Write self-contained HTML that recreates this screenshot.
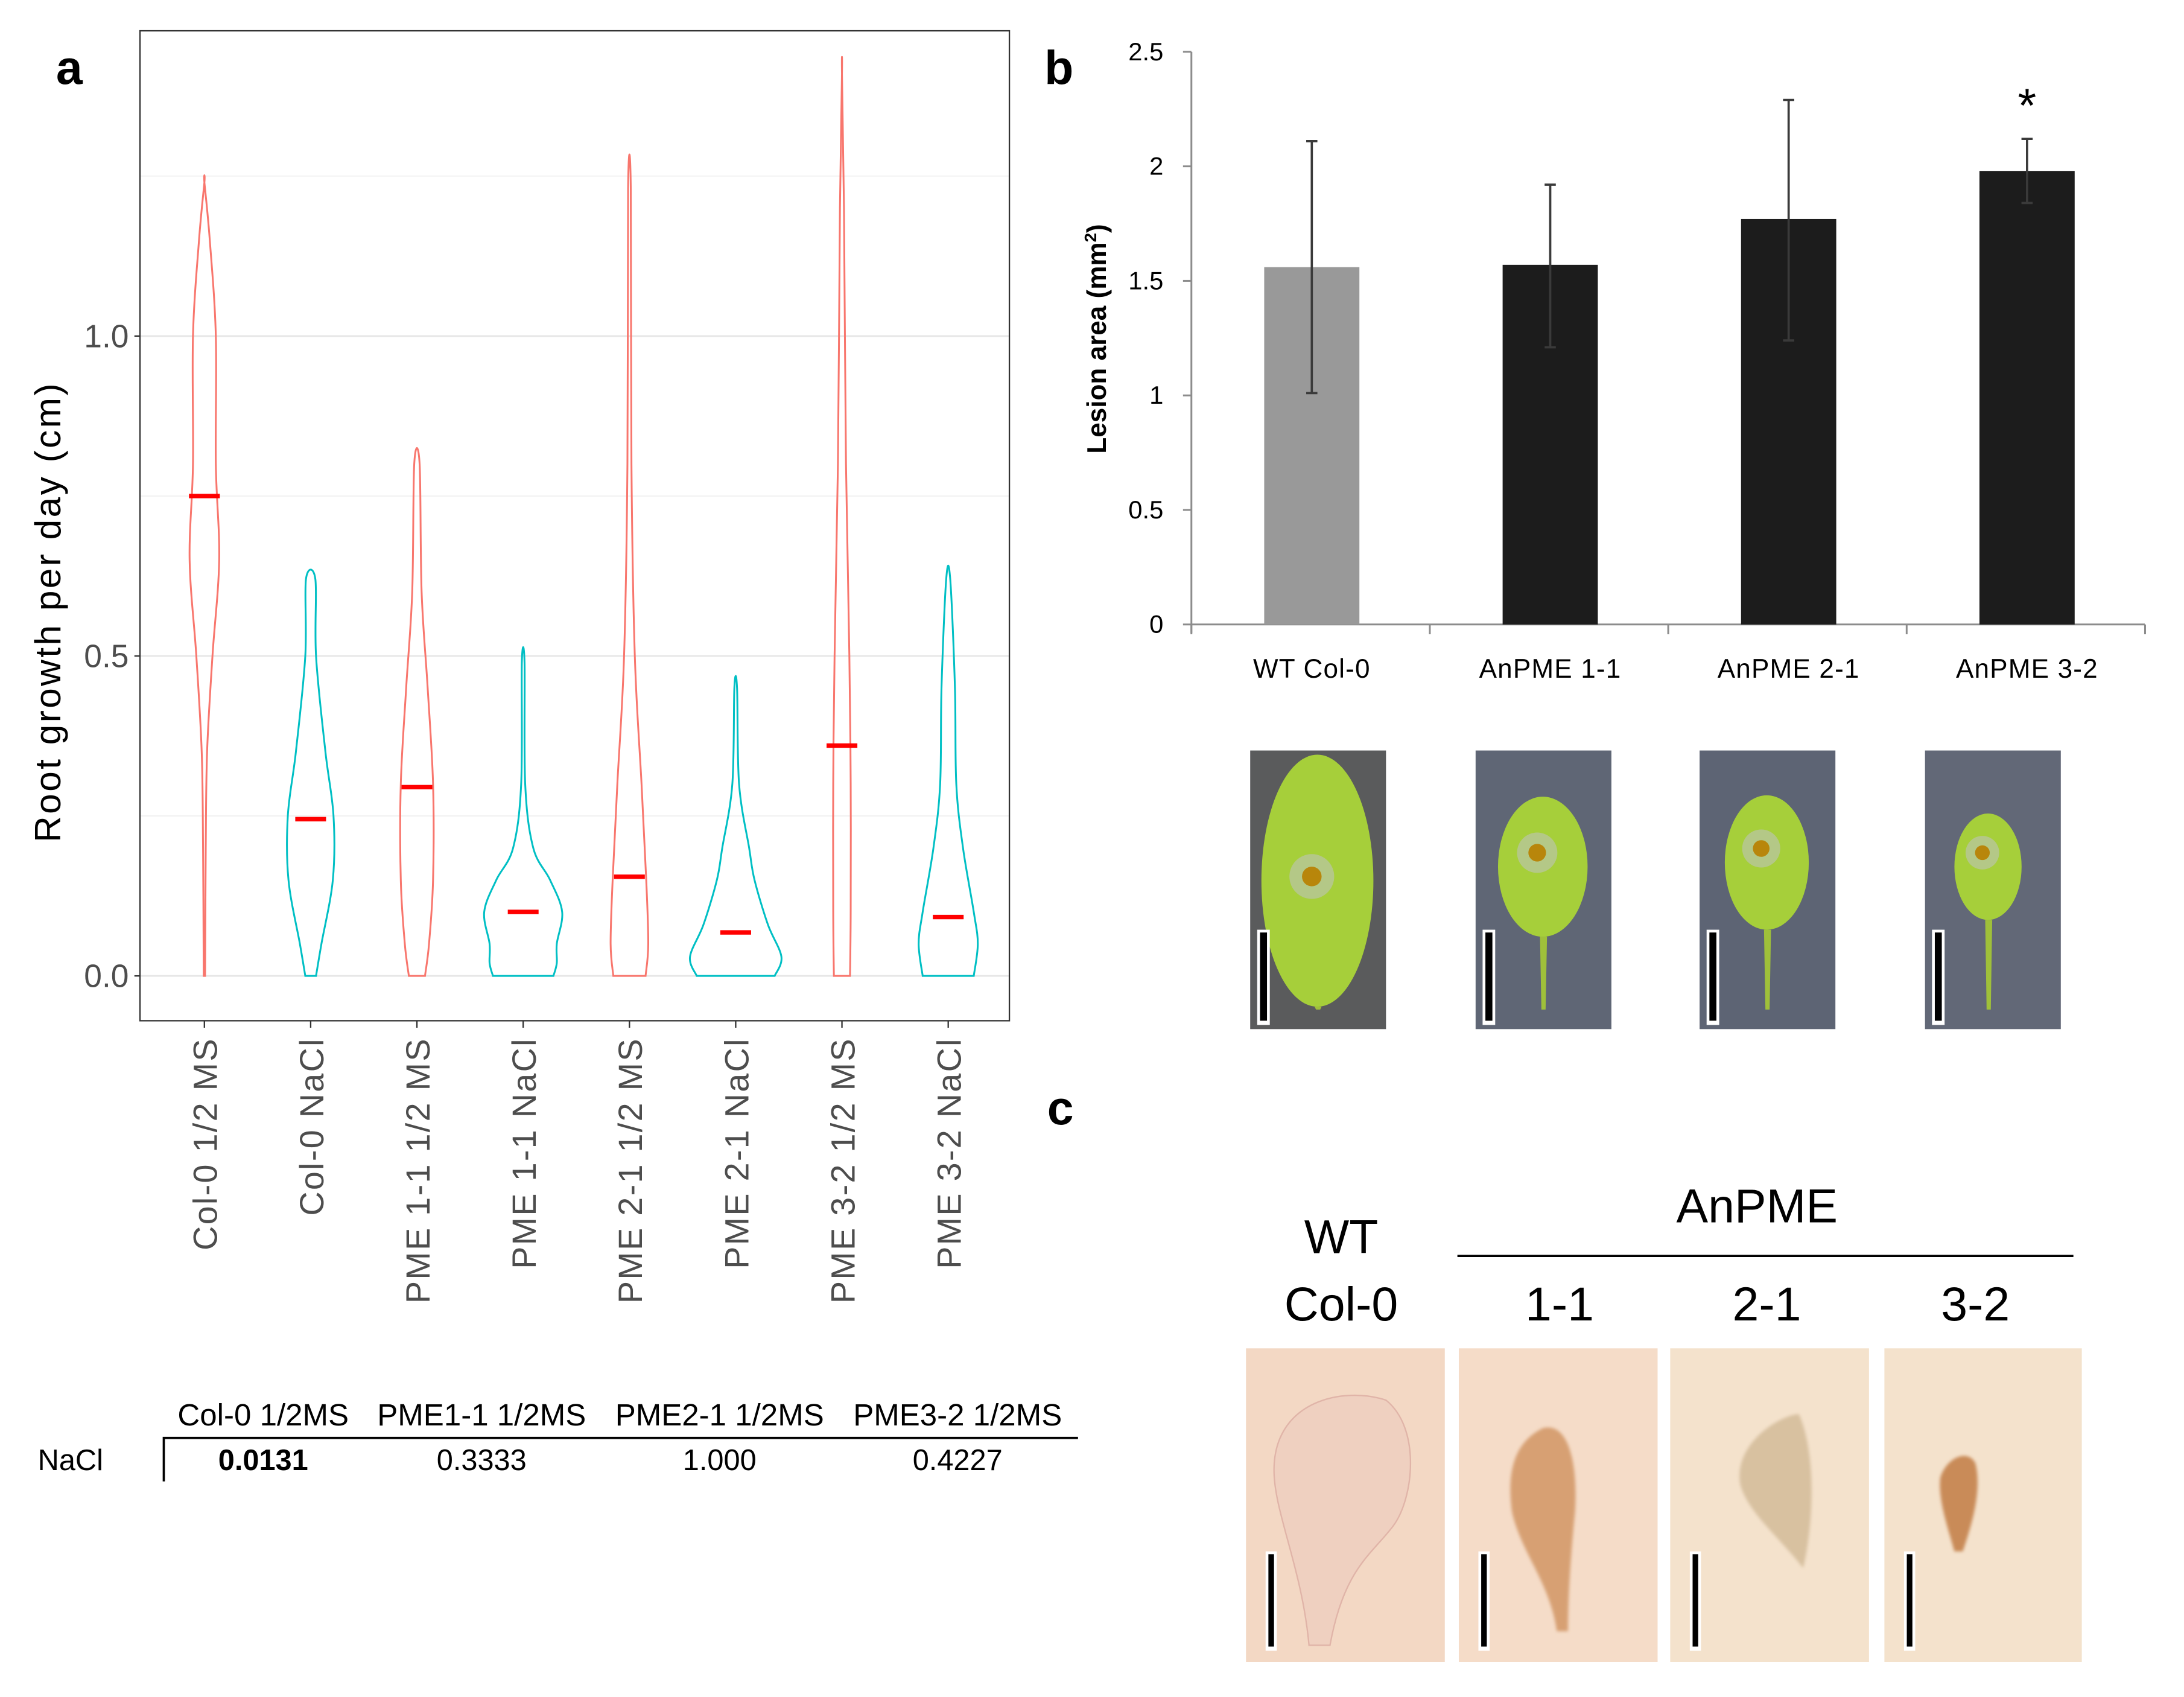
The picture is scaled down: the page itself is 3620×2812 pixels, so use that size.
<!DOCTYPE html>
<html><head><meta charset="utf-8">
<style>
html,body{margin:0;padding:0;background:#fff;}
svg{display:block;}
text{font-family:"Liberation Sans",sans-serif;}
</style></head>
<body>
<svg id="fig" width="3620" height="2812" viewBox="0 0 1560 1212" preserveAspectRatio="none" xmlns="http://www.w3.org/2000/svg">
<defs>
  <filter id="blur1"><feGaussianBlur stdDeviation="1.2"/></filter>
</defs>
<g id="panelA"></g>
<g id="panelB"></g>
<g id="photos"></g>
<g id="panelC"></g>
<g id="table"></g>
</svg>
<script>
// ---------- Panel a data ----------
const catsA = ["Col-0 1/2 MS","Col-0 NaCl","PME 1-1 1/2 MS","PME 1-1 NaCl","PME 2-1 1/2 MS","PME 2-1 NaCl","PME 3-2 1/2 MS","PME 3-2 NaCl"];
const groupA = ["MS","NaCl","MS","NaCl","MS","NaCl","MS","NaCl"];
const meansA = [0.75,0.245,0.295,0.1,0.155,0.068,0.36,0.092];
const violinY = [
 [0,0.2,0.35,0.5,0.65,0.8,1.0,1.15,1.24],
 [0,0.05,0.15,0.25,0.35,0.5,0.62],
 [0,0.05,0.15,0.3,0.45,0.6,0.8],
 [0,0.02,0.05,0.1,0.15,0.2,0.3,0.49],
 [0,0.05,0.15,0.3,0.5,0.8,1.23],
 [0,0.03,0.08,0.15,0.2,0.3,0.45],
 [0,0.1,0.3,0.5,0.8,1.2,1.41],
 [0,0.05,0.1,0.2,0.3,0.45,0.62]
];
const violinD = [
 [1,2,4,12,22,17,17,8,0],
 [8,16,33,34,22,8,7],
 [12,18,24,24,16,7,4],
 [45,50,50,58,40,15,3,2],
 [24,28,25,18,8,3,2],
 [58,68,48,28,20,5,2],
 [12,13,13,11,6,3,0],
 [38,44,38,22,12,10,3]
];
const ticksA = [0,0.5,1.0];
const gridA = [0.25,0.75,1.25];

// ---------- Panel b data ----------
const catsB = ["WT Col-0","AnPME 1-1","AnPME 2-1","AnPME 3-2"];
const valsB = [1.56,1.57,1.77,1.98];
const errLoB = [1.01,1.21,1.24,1.84];
const errHiB = [2.11,1.92,2.29,2.12];
const sigB = ["","","","*"];
const ticksB = [0,0.5,1,1.5,2,2.5];
const tickLabB = ["0","0.5","1","1.5","2","2.5"];

// ---------- Table data ----------
const tblHead = ["Col-0 1/2MS","PME1-1 1/2MS","PME2-1 1/2MS","PME3-2 1/2MS"];
const tblVals = ["0.0131","0.3333","1.000","0.4227"];

const NS="http://www.w3.org/2000/svg";
function mk(parent,tag,attrs,txt){const e=document.createElementNS(NS,tag);for(const k in attrs)e.setAttribute(k,attrs[k]);if(txt!==undefined)e.textContent=txt;parent.appendChild(e);return e;}

// ===== Panel A =====
const A=document.getElementById('panelA');
const ax={l:100,r:721,t:22,b:729};
const yA=v=>697-v*457;
const xA=i=>146+i*75.9;
mk(A,'rect',{x:ax.l,y:ax.t,width:ax.r-ax.l,height:ax.b-ax.t,fill:'#fff'});
gridA.forEach(g=>{const l=mk(A,'line',{x1:ax.l,x2:ax.r,y1:yA(g),y2:yA(g),stroke:'#f0f0f0','stroke-width':0.8});

});
ticksA.forEach(t=>{const l=mk(A,'line',{x1:ax.l,x2:ax.r,y1:yA(t),y2:yA(t),stroke:'#e6e6e6','stroke-width':1.2});


const tx=mk(A,'text',{x:92,y:yA(t)+8,'text-anchor':'end','font-size':23,fill:'#4d4d4d'},t.toFixed(1));


mk(A,'line',{x1:96,x2:ax.l,y1:yA(t),y2:yA(t),stroke:'#333','stroke-width':1});});
mk(A,'rect',{x:ax.l,y:ax.t,width:ax.r-ax.l,height:ax.b-ax.t,fill:'none',stroke:'#333','stroke-width':1});
const yt=mk(A,'text',{x:0,y:0,transform:'translate(43,437) rotate(-90)','text-anchor':'middle','font-size':26,'letter-spacing':1.5,fill:'#000'},'Root growth per day (cm)');


const la=mk(A,'text',{x:40,y:60,'font-size':34,'font-weight':'bold'},'a');


const dScale=0.48;
catsA.forEach((c,i)=>{
  const cx=xA(i);const ys=violinY[i],ds=violinD[i];
  let pts=[];
  for(let k=0;k<ys.length;k++)pts.push([cx+ds[k]*dScale,yA(ys[k])]);
  for(let k=ys.length-1;k>=0;k--)pts.push([cx-ds[k]*dScale,yA(ys[k])]);
  let d='M'+pts[0][0]+','+pts[0][1];
  for(let k=0;k<pts.length-1;k++){const p0=pts[Math.max(k-1,0)],p1=pts[k],p2=pts[k+1],p3=pts[Math.min(k+2,pts.length-1)];
    d+=` C${p1[0]+(p2[0]-p0[0])/6},${p1[1]+(p2[1]-p0[1])/6} ${p2[0]-(p3[0]-p1[0])/6},${p2[1]-(p3[1]-p1[1])/6} ${p2[0]},${p2[1]}`;}
  d+='Z';
  const v=mk(A,'path',{d:d,fill:'none',stroke:groupA[i]==='MS'?'#F8766D':'#00BFC4','stroke-width':1.3});
  
  
  const m=mk(A,'line',{x1:cx-11,x2:cx+11,y1:yA(meansA[i]),y2:yA(meansA[i]),stroke:'#ff0000','stroke-width':3.2});
  
  
  mk(A,'line',{x1:cx,x2:cx,y1:ax.b,y2:ax.b+5,stroke:'#333','stroke-width':1});
  const t=mk(A,'text',{x:0,y:0,transform:`translate(${cx+9},741) rotate(-90)`,'text-anchor':'end','font-size':24,'letter-spacing':1,fill:'#4d4d4d'},c);
  
  
});

// ===== Panel B =====
const B=document.getElementById('panelB');
const yB=v=>446-v*163.6;
const xB=i=>937+i*170.3;
const lb=mk(B,'text',{x:746,y:60,'font-size':34,'font-weight':'bold'},'b');


mk(B,'line',{x1:851,x2:851,y1:yB(2.5),y2:yB(0)+6,stroke:'#8c8c8c','stroke-width':1.3});
mk(B,'line',{x1:851,x2:1532,y1:yB(0),y2:yB(0),stroke:'#8c8c8c','stroke-width':1.3});
ticksB.forEach((t,i)=>{mk(B,'line',{x1:845,x2:851,y1:yB(t),y2:yB(t),stroke:'#8c8c8c','stroke-width':1.3});
const tx=mk(B,'text',{x:831,y:yB(t)+6,'text-anchor':'end','font-size':18,fill:'#000'},tickLabB[i]);

});
for(let i=0;i<=4;i++)mk(B,'line',{x1:851+i*170.3,x2:851+i*170.3,y1:yB(0),y2:yB(0)+7,stroke:'#8c8c8c','stroke-width':1.3});
const ytb=mk(B,'text',{x:0,y:0,transform:'translate(790,242) rotate(-90)','text-anchor':'middle','font-size':19,'font-weight':'bold'});


ytb.innerHTML='Lesion area (mm<tspan dy="-7" font-size="12">2</tspan><tspan dy="7">)</tspan>';
catsB.forEach((c,i)=>{
  const cx=xB(i);
  const r=mk(B,'rect',{x:cx-34,y:yB(valsB[i]),width:68,height:yB(0)-yB(valsB[i]),fill:i===0?'#999999':'#1c1c1c'});
  
  
  const e=mk(B,'path',{d:`M${cx},${yB(errLoB[i])}V${yB(errHiB[i])}M${cx-4},${yB(errLoB[i])}H${cx+4}M${cx-4},${yB(errHiB[i])}H${cx+4}`,stroke:'#3a3a3a','stroke-width':1.6,fill:'none'});
  
  
  const t=mk(B,'text',{x:cx,y:484,'text-anchor':'middle','font-size':19,'letter-spacing':0.5},c);
  
  
  if(sigB[i]){const s=mk(B,'text',{x:cx,y:yB(errHiB[i])-12,'text-anchor':'middle','font-size':34},sigB[i]);
  
  }
});

// ===== Photos (green leaves) =====
const P=document.getElementById('photos');
const gx=[893,1054,1214,1375];
const gLeaf=[[48,93,40,90,1.0],[48,83,32,50,0.9],[48,80,30,48,0.85],[45,83,24,38,0.75]];
const gBg=['#5a5b5c','#5f6675','#5d6474','#626877'];
gx.forEach((x,i)=>{
  const g=mk(P,'g',{});
  
  
  mk(g,'rect',{x:x,y:536,width:97,height:199,fill:gBg[i]});
  const L=gLeaf[i];const cx=x+L[0],cy=536+L[1];
  mk(g,'path',{d:`M${cx-2},${cy+L[3]} L${cx+3},${cy+L[3]} L${cx+2},${536+185} L${cx-1},${536+185}Z`,fill:'#9fc03a'});
  mk(g,'ellipse',{cx:cx,cy:cy,rx:L[2],ry:L[3],fill:'#a6cf3a'});
  mk(g,'circle',{cx:cx-4,cy:cy+(i===0?-3:-10),r:16*L[4],fill:'#b8c69b',opacity:0.8});
  mk(g,'circle',{cx:cx-4,cy:cy+(i===0?-3:-10),r:7*L[4],fill:'#b8860b'});
  mk(g,'rect',{x:x+5,y:664,width:9,height:68,fill:'#fff'});
  mk(g,'rect',{x:x+7,y:666,width:5,height:63,fill:'#000'});
});

// ===== Panel C =====
const C=document.getElementById('panelC');
const lc=mk(C,'text',{x:748,y:803,'font-size':34,'font-weight':'bold'},'c');


[['WT',958,895],['Col-0',958,943],['AnPME',1255,873],['1-1',1114,943],['2-1',1262,943],['3-2',1411,943]].forEach(a=>{
  const t=mk(C,'text',{x:a[1],y:a[2],'text-anchor':'middle','font-size':34},a[0]);
  
  });
mk(C,'line',{x1:1041,x2:1481,y1:897,y2:897,stroke:'#000','stroke-width':1.6});
const cx0=[890,1042,1193,1346],cw=[142,142,142,141];
const cols=['#f3d8c4','#f5dcc8','#f4e2cc','#f4e2cc'];
cx0.forEach((x,i)=>{
  const g=mk(C,'g',{});
  
  
  mk(g,'rect',{x:x,y:963,width:cw[i],height:224,fill:cols[i]});
  if(i===0){mk(g,'path',{d:`M${x+45},1175 C${x+40},1120 ${x+20},1080 ${x+20},1050 C${x+20},1000 ${x+70},990 ${x+100},1000 C${x+125},1020 ${x+120},1070 ${x+105},1090 C${x+90},1110 ${x+70},1120 ${x+60},1175Z`,fill:'#efd0c0',stroke:'#e0b4a8','stroke-width':1});}
  if(i===1){mk(g,'path',{d:`M${x+70},1165 C${x+65},1130 ${x+45},1110 ${x+38},1080 C${x+34},1050 ${x+40},1030 ${x+60},1020 C${x+80},1015 ${x+85},1050 ${x+83},1080 C${x+80},1110 ${x+78},1140 ${x+78},1165Z`,fill:'#d7a073',filter:'url(#blur1)'});}
  if(i===2){mk(g,'path',{d:`M${x+95},1120 C${x+80},1100 ${x+55},1080 ${x+50},1060 C${x+45},1030 ${x+80},1010 ${x+92},1010 C${x+105},1040 ${x+102},1090 ${x+95},1120Z`,fill:'#d8c1a0',filter:'url(#blur1)'});}
  if(i===3){mk(g,'path',{d:`M${x+50},1108 C${x+45},1090 ${x+38},1070 ${x+40},1055 C${x+45},1040 ${x+60},1035 ${x+65},1045 C${x+70},1065 ${x+62},1090 ${x+56},1108Z`,fill:'#c98b58',filter:'url(#blur1)'});}
  mk(g,'rect',{x:x+14,y:1108,width:8,height:71,fill:'#fff'});
  mk(g,'rect',{x:x+16,y:1110,width:4,height:66,fill:'#000'});
});

// ===== Table =====
const T=document.getElementById('table');
const tX=[188,344,514,684];
tblHead.forEach((h,i)=>{const t=mk(T,'text',{x:tX[i],y:1018,'text-anchor':'middle','font-size':22},h);


const v=mk(T,'text',{x:tX[i],y:1050,'text-anchor':'middle','font-size':21,'font-weight':i===0?'bold':'normal'},tblVals[i]);

});
const rn=mk(T,'text',{x:27,y:1050,'font-size':21},'NaCl');


mk(T,'path',{d:'M117,1058V1027H770',stroke:'#000','stroke-width':1.6,fill:'none'});
</script>
</body></html>
